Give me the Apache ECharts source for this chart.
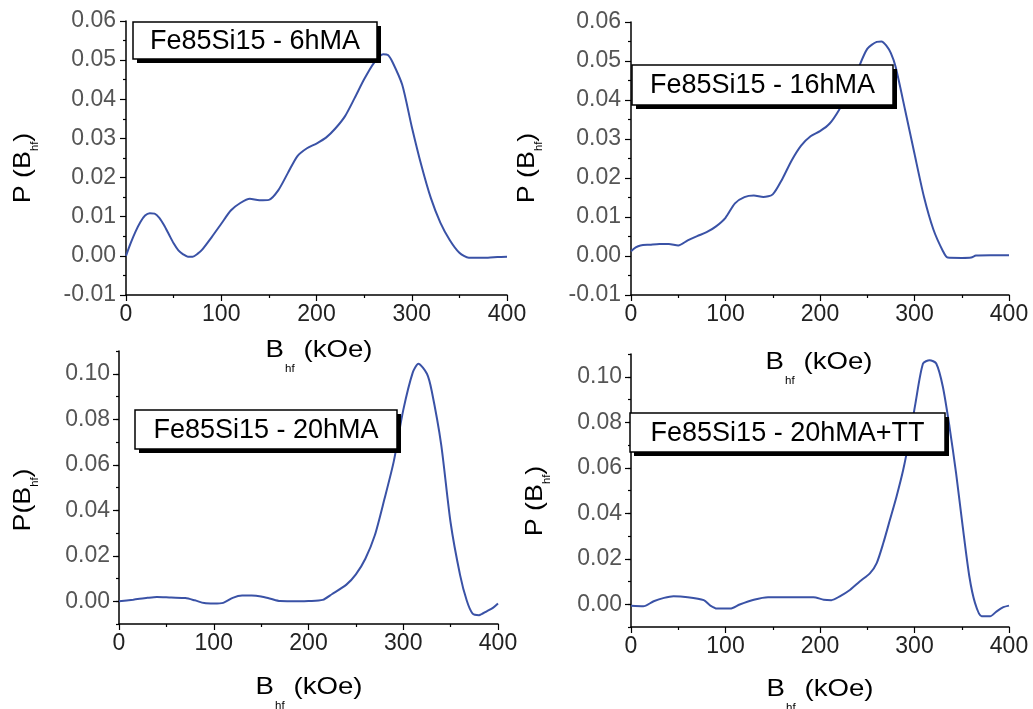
<!DOCTYPE html>
<html>
<head>
<meta charset="utf-8">
<script src="https://cdn.jsdelivr.net/npm/echarts@6/dist/echarts.min.js"></script>
<style>
html,body{margin:0;padding:0;background:#fff;}
#chart{width:1033px;height:709px;}
</style>
</head>
<body>
<div id="chart"></div>
<script>
// ---- Data ----
var panelTitles = ['Fe85Si15 - 6hMA', 'Fe85Si15 - 16hMA', 'Fe85Si15 - 20hMA', 'Fe85Si15 - 20hMA+TT'];

var bhf6 = [0,5,10,15,20,25,30,35,40,45,50,55,60,65,70,75,80,90,100,110,120,130,140,150,160,170,180,190,200,210,220,230,240,250,260,270,275,280,290,300,310,320,330,340,350,360,370,380,390,400];
var p6 = [0.0000,0.0033,0.0062,0.0086,0.0103,0.0109,0.0108,0.0097,0.0078,0.0055,0.0032,0.0014,0.0004,-0.0002,-0.0002,0.0005,0.0016,0.0048,0.0082,0.0116,0.0135,0.0146,0.0142,0.0143,0.0168,0.0212,0.0255,0.0275,0.0287,0.0302,0.0326,0.0357,0.0403,0.0451,0.0492,0.0515,0.0513,0.0494,0.0437,0.0330,0.0232,0.0148,0.0085,0.0040,0.0008,-0.0005,-0.0005,-0.0005,-0.0003,-0.0002];

var bhf16 = [0,5,10,20,30,40,50,60,70,80,90,100,110,120,130,140,150,160,170,180,190,200,210,220,230,240,250,260,265,270,275,280,290,300,310,320,330,335,350,360,365,380,400];
var p16 = [0.0012,0.0022,0.0027,0.0029,0.0031,0.0031,0.0027,0.0040,0.0051,0.0061,0.0076,0.0098,0.0135,0.0151,0.0155,0.0151,0.0158,0.0197,0.0245,0.0283,0.0307,0.0320,0.0339,0.0374,0.0420,0.0478,0.0531,0.0549,0.0550,0.0540,0.0520,0.0485,0.0375,0.0262,0.0152,0.0068,0.0013,-0.0004,-0.0005,-0.0004,0.0001,0.0002,0.0002];

var bhf20 = [0,15,30,40,55,70,80,90,100,110,120,130,140,150,160,170,190,200,215,225,240,250,260,270,280,290,300,310,316,325,330,340,350,360,367,373,380,388,395,400];
var p20 = [0.0000,0.0007,0.0015,0.0019,0.0016,0.0014,0.0004,-0.0008,-0.0010,-0.0007,0.0015,0.0025,0.0025,0.0021,0.0011,0.0001,0.0000,0.0001,0.0006,0.0032,0.0073,0.0118,0.0187,0.0290,0.0447,0.0615,0.0840,0.1005,0.1044,0.1000,0.0925,0.0690,0.0345,0.0115,0.0003,-0.0053,-0.0061,-0.0044,-0.0028,-0.0010];

var bhf20tt = [0,13,24,35,45,60,77,84,91,105,115,130,145,170,193,204,212,221,232,242,253,260,267,274,281,288,295,301,309,316,323,330,337,344,351,358,364,371,380,387,394,400];
var p20tt = [-0.0007,-0.0009,0.0013,0.0028,0.0035,0.0031,0.0018,-0.0006,-0.0019,-0.0019,-0.0001,0.0020,0.0031,0.0031,0.0031,0.0020,0.0018,0.0035,0.0064,0.0100,0.0137,0.0181,0.0269,0.0371,0.0474,0.0590,0.0737,0.0883,0.1058,0.1073,0.1058,0.0956,0.0781,0.0576,0.0342,0.0123,0.0006,-0.0053,-0.0053,-0.0031,-0.0013,-0.0006];

var xTicks = [0, 100, 200, 300, 400];
var yTicksTop = [-0.01, 0.00, 0.01, 0.02, 0.03, 0.04, 0.05, 0.06];
var yTicksBottom = [0.00, 0.02, 0.04, 0.06, 0.08, 0.10];

// ---- Chart ----
var FONT = '"Liberation Sans", Arial, sans-serif';
var LINE_COLOR = '#3a52a6';

function zip(xs, ys) { return xs.map(function (x, i) { return [x, ys[i]]; }); }
function fmtY(v) { if (Math.abs(v) < 1e-9) return '0.00'; return v.toFixed(2); }

var grids = [
  { left: 126, top: 21, width: 381, height: 274 },
  { left: 631, top: 22, width: 378, height: 273 },
  { left: 119, top: 351, width: 379, height: 273 },
  { left: 631, top: 354, width: 378, height: 273 }
];

function xAxisCfg(gi) {
  return {
    type: 'value', gridIndex: gi, min: xTicks[0], max: xTicks[xTicks.length - 1], interval: 100,
    axisLine: { show: true, onZero: false, lineStyle: { color: '#000', width: 1.5 } },
    axisTick: { show: true, inside: false, length: 6, lineStyle: { color: '#000', width: 1.2 } },
    minorTick: { show: true, splitNumber: 2, length: 3, lineStyle: { color: '#000', width: 1.2 } },
    splitLine: { show: false },
    axisLabel: { fontFamily: FONT, fontSize: 23, color: '#222', margin: 8 }
  };
}

function yAxisTop(gi) {
  return {
    type: 'value', gridIndex: gi, position: 'left',
    min: yTicksTop[0], max: yTicksTop[yTicksTop.length - 1], interval: 0.01,
    axisLine: { show: true, onZero: false, lineStyle: { color: '#000', width: 1.5 } },
    axisTick: { show: true, inside: false, length: 6, lineStyle: { color: '#000', width: 1.2 } },
    minorTick: { show: true, splitNumber: 2, length: 3, lineStyle: { color: '#000', width: 1.2 } },
    splitLine: { show: false },
    axisLabel: { fontFamily: FONT, fontSize: 23, color: '#555', margin: 10, formatter: fmtY }
  };
}

function yAxisBottomMajor(gi) {
  return {
    type: 'value', gridIndex: gi, position: 'left', offset: 0,
    min: -0.01, max: 0.11,
    axisLine: { show: true, onZero: false, lineStyle: { color: '#000', width: 1.5 } },
    axisTick: { show: true, inside: false, length: 6, customValues: yTicksBottom, lineStyle: { color: '#000', width: 1.2 } },
    splitLine: { show: false },
    axisLabel: { fontFamily: FONT, fontSize: 23, color: '#555', margin: 9, customValues: yTicksBottom, formatter: fmtY }
  };
}

function yAxisBottomMinor(gi) {
  return {
    type: 'value', gridIndex: gi, position: 'left', offset: 0,
    min: -0.01, max: 0.11, interval: 0.01,
    axisLine: { show: false, onZero: false },
    axisTick: { show: true, inside: false, length: 3, lineStyle: { color: '#000', width: 1.2 } },
    splitLine: { show: false },
    axisLabel: { show: false }
  };
}

function lineSeries(xi, yi, xs, ys) {
  return {
    type: 'line', xAxisIndex: xi, yAxisIndex: yi, data: zip(xs, ys),
    showSymbol: false, symbol: 'none', smooth: 0.25, z: 3,
    lineStyle: { color: LINE_COLOR, width: 2 }, animation: false
  };
}

function labelBox(x, y, w, h, text) {
  return {
    type: 'group', z: 100,
    children: [
      { type: 'rect', shape: { x: x + 4, y: y + 4, width: w, height: h }, style: { fill: '#000' }, z: 100 },
      { type: 'rect', shape: { x: x, y: y, width: w, height: h }, style: { fill: '#fff', stroke: '#000', lineWidth: 1.5 }, z: 101 },
      { type: 'text', x: x + w / 2, y: y + h / 2 + 1, z: 102,
        style: { text: text, fontFamily: FONT, fontSize: 27, fill: '#000', align: 'center', verticalAlign: 'middle' } }
    ]
  };
}

var richTitle = {
  a: { fontFamily: FONT, fontSize: 24, color: '#000' },
  s: { fontFamily: FONT, fontSize: 10, color: '#000', padding: [38, 1, 0, 1] }
};

function xTitle(cx, cy) {
  return {
    type: 'text', x: cx, y: cy, scaleX: 1.15, z: 50,
    style: { text: '{a|B}{s|hf}{a| (kOe)}', rich: richTitle, align: 'center', verticalAlign: 'middle', fill: '#000' }
  };
}
function yTitle(cx, cy, text) {
  return {
    type: 'text', x: cx, y: cy, rotation: Math.PI / 2, scaleX: 1.12, z: 50,
    style: { text: text, rich: {
      a: { fontFamily: FONT, fontSize: 24, color: '#000' },
      s: { fontFamily: FONT, fontSize: 10, color: '#000', padding: [24, 0, 0, 0] }
    }, align: 'center', verticalAlign: 'middle', fill: '#000' }
  };
}

var option = {
  backgroundColor: '#fff',
  animation: false,
  grid: grids,
  xAxis: [xAxisCfg(0), xAxisCfg(1), xAxisCfg(2), xAxisCfg(3)],
  yAxis: [yAxisTop(0), yAxisTop(1), yAxisBottomMajor(2), yAxisBottomMinor(2), yAxisBottomMajor(3), yAxisBottomMinor(3)],
  series: [
    lineSeries(0, 0, bhf6, p6),
    lineSeries(1, 1, bhf16, p16),
    lineSeries(2, 2, bhf20, p20),
    lineSeries(3, 4, bhf20tt, p20tt)
  ],
  graphic: [
    labelBox(133, 22, 244, 37, panelTitles[0]),
    labelBox(632, 65, 261, 40, panelTitles[1]),
    labelBox(135, 410, 262, 39, panelTitles[2]),
    labelBox(630, 413, 315, 39, panelTitles[3]),
    xTitle(319, 350),
    xTitle(819, 362),
    xTitle(309, 687),
    xTitle(820, 689),
    yTitle(23, 168, '{a|P (B}{s|hf}{a|)}'),
    yTitle(527, 168, '{a|P (B}{s|hf}{a|)}'),
    yTitle(23, 500, '{a|P(B}{s|hf}{a|)}'),
    yTitle(535, 501, '{a|P (B}{s|hf}{a|)}')
  ]
};

var chart = echarts.init(document.getElementById('chart'), null, { renderer: 'canvas' });
chart.setOption(option);
</script>
</body>
</html>
